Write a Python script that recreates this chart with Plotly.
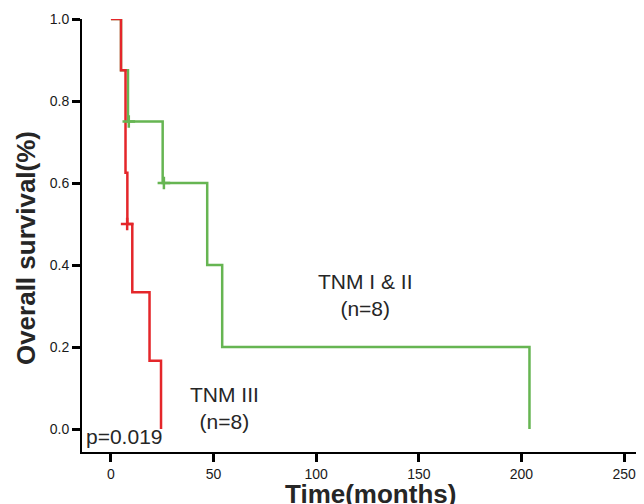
import plotly.graph_objects as go

# TNM I & II (green) Kaplan-Meier steps
green_time = [0, 4.9, 8.3, 25.2, 46.9, 54.2, 203.9]
green_surv = [1.0, 0.875, 0.75, 0.6, 0.4, 0.2, 0.0]
green_cens_time = [8.7, 25.8]
green_cens_surv = [0.75, 0.6]

# TNM III (red) Kaplan-Meier steps
red_time = [0, 4.9, 7.1, 8.0, 10.4, 18.8, 24.4]
red_surv = [1.0, 0.875, 0.625, 0.5, 0.3333, 0.1667, 0.0]
red_cens_time = [7.9]
red_cens_surv = [0.5]

x_ticks = [0, 50, 100, 150, 200, 250]
y_ticks = [0.0, 0.2, 0.4, 0.6, 0.8, 1.0]
y_ticklabels = ["0.0", "0.2", "0.4", "0.6", "0.8", "1.0"]

GREEN = "#66B552"
RED = "#E4262A"
FONT = "Liberation Sans"
TXT = "#262626"

fig = go.Figure()
fig.add_trace(go.Scatter(x=green_time, y=green_surv, mode="lines",
                         line=dict(color=GREEN, width=2.5, shape="hv"),
                         cliponaxis=False, showlegend=False))
fig.add_trace(go.Scatter(x=red_time, y=red_surv, mode="lines",
                         line=dict(color=RED, width=2.5, shape="hv"),
                         cliponaxis=False, showlegend=False))
fig.add_trace(go.Scatter(x=green_cens_time, y=green_cens_surv, mode="markers",
                         marker=dict(symbol="cross-thin", size=9,
                                     line=dict(color=GREEN, width=2.5)),
                         cliponaxis=False, showlegend=False))
fig.add_trace(go.Scatter(x=red_cens_time, y=red_cens_surv, mode="markers",
                         marker=dict(symbol="cross-thin", size=9,
                                     line=dict(color=RED, width=2.5)),
                         cliponaxis=False, showlegend=False))

# page body has an 8px margin: figure is sized to fill the rest of the window
fig.update_layout(
    width=636, height=496,
    margin=dict(l=74, r=0, t=11, b=52, autoexpand=False),
    paper_bgcolor="white", plot_bgcolor="white",
    font=dict(family=FONT, color=TXT),
    xaxis=dict(range=[-14.1, 259.7], tickvals=x_ticks, ticks="outside",
               ticklen=8, tickwidth=3, tickcolor="black",
               showline=True, linecolor="black", linewidth=2,
               showgrid=False, zeroline=False, automargin=False,
               tickfont=dict(family=FONT, size=14, color="#1a1a1a")),
    yaxis=dict(range=[-0.056, 1.0], tickvals=y_ticks, ticktext=y_ticklabels,
               ticks="outside", ticklen=8, tickwidth=3, tickcolor="black",
               showline=True, linecolor="black", linewidth=2,
               showgrid=False, zeroline=False, automargin=False,
               tickfont=dict(family=FONT, size=14, color="#1a1a1a")),
)

fig.add_annotation(text="TNM I &amp; II<br>(n=8)", x=124, y=0.327, xref="x", yref="y",
                   xanchor="center", yanchor="middle",
                   showarrow=False, font=dict(family=FONT, size=21, color=TXT))
fig.add_annotation(text="TNM III<br>(n=8)", x=55.3, y=0.052, xref="x", yref="y",
                   xanchor="center", yanchor="middle",
                   showarrow=False, font=dict(family=FONT, size=21, color=TXT))
fig.add_annotation(text="p=0.019", x=-13.2, y=-0.017, xref="x", yref="y",
                   xanchor="left", yanchor="middle", showarrow=False,
                   font=dict(family=FONT, size=21, color=TXT))
fig.add_annotation(text="<b>Time(months)</b>", x=0.514, y=-0.096, xref="paper", yref="paper",
                   xanchor="center", yanchor="middle",
                   showarrow=False, font=dict(family=FONT, size=26, color=TXT))
fig.add_annotation(text="<b>Overall survival(%)</b>", x=-0.0996, y=0.471,
                   xref="paper", yref="paper", textangle=-90,
                   xanchor="center", yanchor="middle",
                   showarrow=False, font=dict(family=FONT, size=26, color=TXT))

fig.write_html("out.html")
